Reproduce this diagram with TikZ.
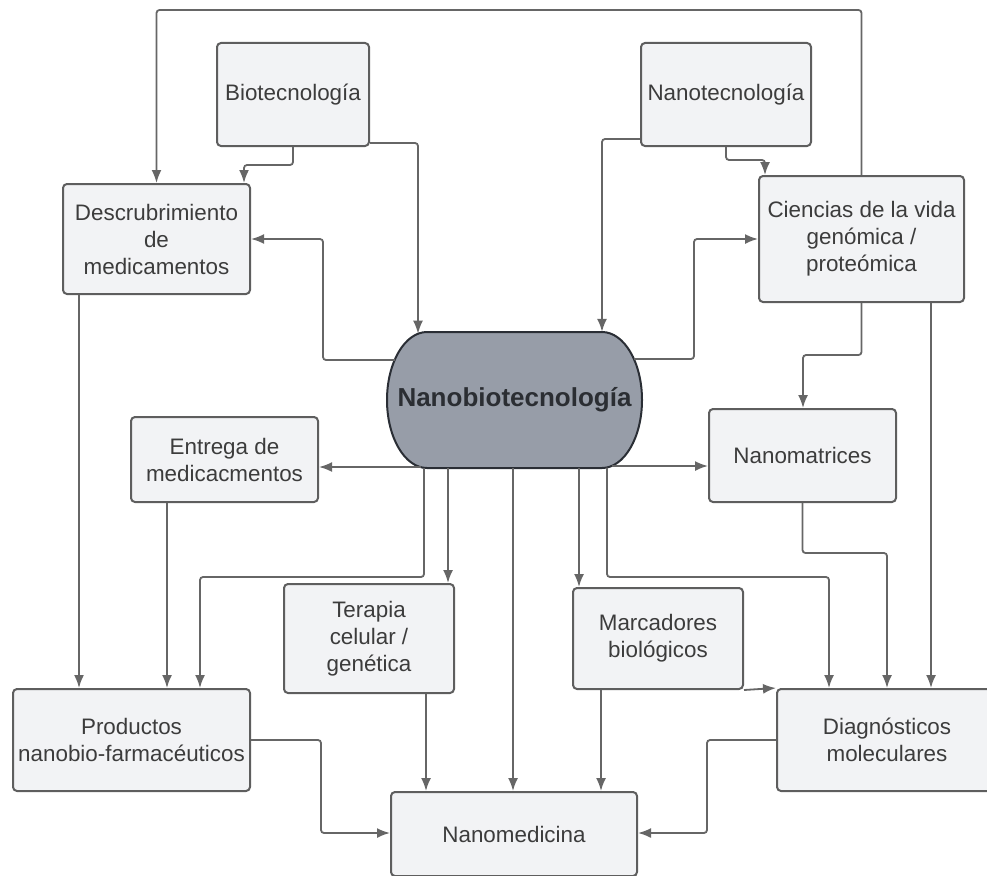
\documentclass[tikz,border=0pt]{standalone}
\usepackage{fontspec}
\setmainfont{Liberation Sans}
\usepackage{tikz}
\usetikzlibrary{arrows.meta}

\definecolor{boxfill}{HTML}{F2F3F5}
\definecolor{boxline}{HTML}{5E5E5E}
\definecolor{arrowline}{HTML}{666666}
\definecolor{hubfill}{HTML}{979DA8}
\definecolor{hubline}{HTML}{2A2E35}
\definecolor{txt}{HTML}{3C3C3C}
\definecolor{hubtxt}{HTML}{2B2E33}

\begin{document}
\begin{tikzpicture}[x=1pt,y=-1pt]
\tikzstyle{block}=[rectangle, draw=boxline, fill=boxfill, line width=2pt, rounded corners=4pt, inner sep=0pt, align=center, text=txt, font=\fontsize{22.4}{27}\selectfont]
\tikzstyle{hub}=[rectangle, inner sep=0pt, minimum width=255pt, minimum height=136pt, text=hubtxt, font=\fontsize{26}{31}\selectfont\bfseries]
\tikzstyle{hubshape}=[draw=hubline, fill=hubfill, line width=2pt]
\tikzstyle{connect}=[-{Latex[length=13pt,width=10pt]}, color=arrowline, line width=1.8pt, rounded corners=3pt]
\useasboundingbox (0,0) rectangle (987,875);
\clip (0,0) rectangle (987,875);
	\node[block, minimum width=152pt, minimum height=103pt] (bio) at (293,94.5) {Biotecnología};
	\node[block, minimum width=170pt, minimum height=103pt] (nano) at (726,94.5) {Nanotecnología};
	\node[block, minimum width=187pt, minimum height=110pt] (desc) at (156.5,239) {Descrubrimiento\\de\\medicamentos};
	\node[block, minimum width=205pt, minimum height=126pt] (cien) at (861.5,239) {Ciencias de la vida\\genómica /\\proteómica};
	\node[block, minimum width=187pt, minimum height=85pt] (entrega) at (224.5,459.5) {Entrega de\\medicacmentos};
	\node[block, minimum width=187pt, minimum height=93pt] (nmat) at (802.5,455.5) {Nanomatrices};
	\node[block, minimum width=170pt, minimum height=109pt] (ter) at (369,638.5) {Terapia\\celular /\\genética};
	\node[block, minimum width=170pt, minimum height=101pt] (marc) at (658,638.5) {Marcadores\\biológicos};
	\node[block, minimum width=237pt, minimum height=102pt] (prod) at (131.5,740) {Productos\\nanobio-farmacéuticos};
	\node[block, minimum width=220pt, minimum height=102pt] (diag) at (887,740) {Diagnósticos\\moleculares};
	\node[block, minimum width=246pt, minimum height=84pt] (nmed) at (514,834) {Nanomedicina};

	% central shape
	\draw[hubshape] (427,332) -- (602,332)
		.. controls (624.1,332) and (642,362.4) .. (642,400)
		.. controls (642,437.6) and (624.1,468) .. (602,468) -- (427,468)
		.. controls (404.9,468) and (387,437.6) .. (387,400)
		.. controls (387,362.4) and (404.9,332) .. (427,332) -- cycle;
	\node[hub] (nbt) at (514.5,400) {Nanobiotecnología};
	\coordinate (nbtTL) at (418,333.7);
	\coordinate (nbtL) at (395,360);
	\coordinate (nbtR) at (634,359);
	\coordinate (nbtBL) at (420.5,467);
	\coordinate (nbtB) at (607,467.5);
	\coordinate (nbtBR) at (611.6,466);

	% upper part
	\draw[connect] (cien.north) |- (desc.north |- 0,10) -- (desc.north);
	\draw[connect] (bio.south) |- (244,165) -- (244,0 |- desc.north);
	\draw[connect] (bio.east |- 0,143) -| (nbtTL);
	\draw[connect] (nano.west |- 0,139) -| (602,0 |- nbt.north);
	\draw[connect] (nano.south) |- (765,160) -- (765,0 |- cien.north);
	\draw[connect] (nbtL) -| (323,239) -- (desc.east);
	\draw[connect] (nbtR) -| (694,239) -- (cien.west);
	\draw[connect] (cien.south) |- (803,355) -- (803,0 |- nmat.north);
	\draw[connect] (931,0 |- cien.south) -- (931,0 |- diag.north);

	% lower part
	\draw[connect] (79,0 |- desc.south) -- (79,0 |- prod.north);
	\draw[connect] (167,0 |- entrega.south) -- (167,0 |- prod.north);
	\draw[connect] (nbt.south -| 424,0) |- (200,577) -- (200,0 |- prod.north);
	\draw[connect] (nbtBL) -- (entrega.east |- nbtBL);
	\draw[connect] (nbt.south -| 448,0) -- (448,0 |- ter.north);
	\draw[connect] (nbt.south -| 513,0) -- (513,0 |- nmed.north);
	\draw[connect] (nbt.south -| 579,0) -- (579,0 |- marc.north);
	\draw[connect] (nbtB) |- (829,577) -- (829,0 |- diag.north);
	\draw[connect] (nbtBR) -- (nmat.west |- nbtBR);
	\draw[connect] (nmat.south) |- (887,553) -- (887,0 |- diag.north);
	\draw[connect] (marc.south east) -- (diag.north west);
	\draw[connect] (601,0 |- marc.south) -- (601,0 |- nmed.north);
	\draw[connect] (426,0 |- ter.south) -- (426,0 |- nmed.north);
	\draw[connect] (prod.east) -| (321,833) -- (nmed.west |- 0,833);
	\draw[connect] (diag.west) -| (707,833) -- (nmed.east |- 0,833);

\end{tikzpicture}
\end{document}
